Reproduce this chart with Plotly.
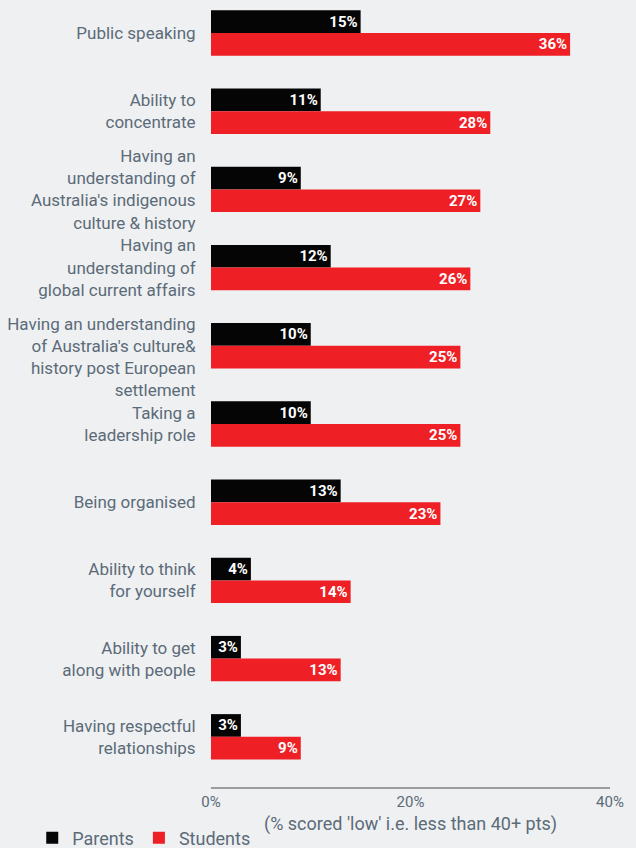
import plotly.graph_objects as go

# Skills where respondents scored 'low', parents vs students
categories = [
    "Public speaking",
    "Ability to<br>concentrate",
    "Having an<br>understanding of<br>Australia's indigenous<br>culture & history",
    "Having an<br>understanding of<br>global current affairs",
    "<br>Having an understanding<br>of Australia's culture&<br>history post European<br>settlement",
    "Taking a<br>leadership role",
    "Being organised",
    "Ability to think<br>for yourself",
    "Ability to get<br>along with people",
    "Having respectful<br>relationships",
]
parents = [15, 11, 9, 12, 10, 10, 13, 4, 3, 3]
students = [36, 28, 27, 26, 25, 25, 23, 14, 13, 9]
x_ticks = [0, 20, 40]
x_tick_labels = ["0%", "20%", "40%"]
x_title = "(% scored 'low' i.e. less than 40+ pts)"

TEXT = "#5b6b78"
BG = "#eff0f2"
FONT = "Roboto, sans-serif"

positions = list(range(len(categories)))

fig = go.Figure()
for name, values, colour in [("Parents", parents, "#050505"),
                             ("Students", students, "#ee1f25")]:
    fig.add_trace(go.Bar(
        name=name, orientation="h", y=positions, x=values,
        marker=dict(color=colour, line=dict(width=0)),
        text=[f"{v}%" for v in values], textposition="inside",
        insidetextanchor="end", constraintext="none",
        textfont=dict(color="white", size=15, family=FONT, weight="bold"),
    ))

# axis title placed under the tick labels
fig.add_annotation(
    text=x_title, xref="paper", yref="paper", x=0.5, y=0,
    xanchor="center", yanchor="middle", yshift=-37, showarrow=False,
    font=dict(size=18, color=TEXT, family=FONT),
)

fig.update_layout(
    width=636, height=848,
    margin=dict(l=211, r=26, t=0, b=61, autoexpand=False),
    paper_bgcolor=BG, plot_bgcolor=BG,
    barmode="group", bargap=0.42, bargroupgap=0.0,
    font=dict(family=FONT, color=TEXT),
    showlegend=True,
    legend=dict(
        orientation="h", xref="paper", yref="paper",
        x=-0.448, y=-0.0648, xanchor="left", yanchor="middle",
        font=dict(size=18, color=TEXT, family=FONT),
        itemwidth=30, tracegroupgap=0, bgcolor="rgba(0,0,0,0)",
    ),
    xaxis=dict(
        range=[0, 40], tickvals=x_ticks, ticktext=x_tick_labels,
        showgrid=False, zeroline=False, automargin=False,
        showline=True, linecolor="#9c9c9c", linewidth=2,
        ticks="", tickfont=dict(size=15, color=TEXT, family=FONT),
    ),
    yaxis=dict(
        range=[9.642, -0.422], tickvals=positions, ticktext=categories,
        showgrid=False, zeroline=False, showline=False, automargin=False,
        ticks="outside", ticklen=11, tickcolor="rgba(0,0,0,0)",
        tickfont=dict(size=17, color=TEXT, family=FONT),
    ),
)

fig.write_html("out.html")
